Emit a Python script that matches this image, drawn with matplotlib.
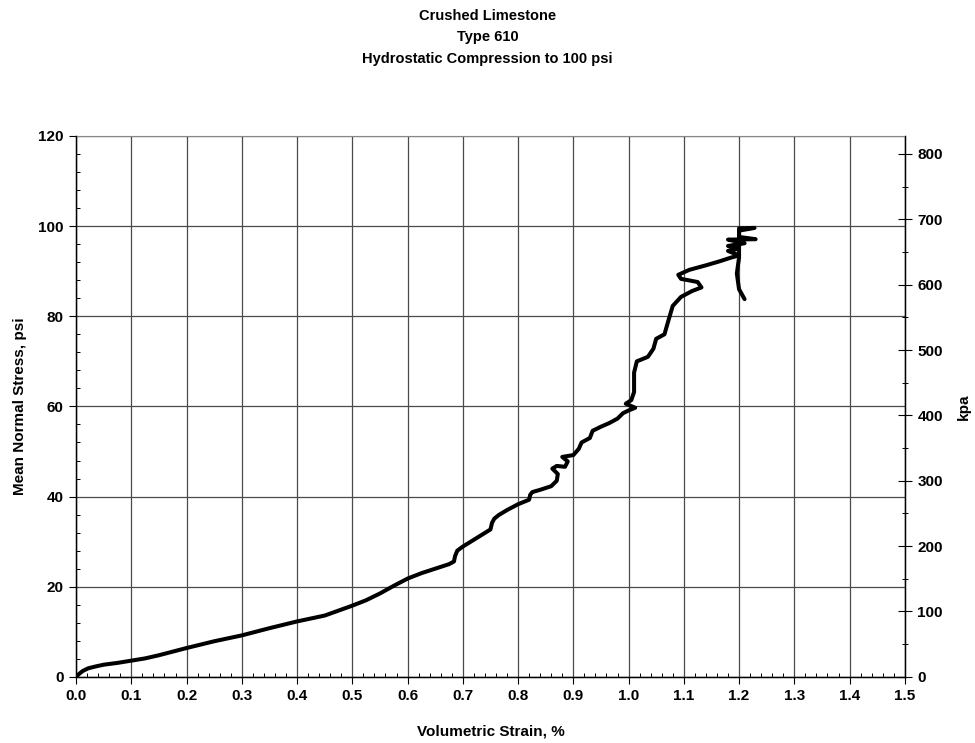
import numpy as np
import matplotlib
matplotlib.use("Agg")
import matplotlib.pyplot as plt
from matplotlib.ticker import MultipleLocator

plt.rcParams['font.family'] = ['Liberation Sans', 'DejaVu Sans']
plt.rcParams['font.weight'] = 'bold'

# volumetric strain (%) and mean normal stress (psi)
strain = [0.0, 0.005, 0.012, 0.022, 0.035, 0.05, 0.075, 0.1, 0.125, 0.15, 0.175,
          0.2, 0.25, 0.3, 0.35, 0.4, 0.45, 0.475, 0.5, 0.525, 0.55, 0.575, 0.6,
          0.625, 0.65, 0.675, 0.684, 0.686, 0.69, 0.7, 0.725, 0.75, 0.753, 0.757,
          0.765, 0.78, 0.8, 0.82, 0.822, 0.826, 0.84, 0.86, 0.87, 0.872, 0.862,
          0.87, 0.885, 0.89, 0.88, 0.9, 0.91, 0.915, 0.93, 0.935, 0.95, 0.965,
          0.98, 0.99, 1.0, 1.012, 0.995, 1.005, 1.01, 1.01, 1.015, 1.035, 1.045,
          1.05, 1.065, 1.072, 1.08, 1.095, 1.115, 1.132, 1.125, 1.095, 1.09,
          1.11, 1.14, 1.165, 1.185, 1.2, 1.18, 1.2, 1.18, 1.21, 1.18, 1.23, 1.2,
          1.2, 1.228, 1.2, 1.2, 1.196, 1.2, 1.21]
stress = [0.0, 0.6, 1.3, 1.9, 2.3, 2.7, 3.1, 3.6, 4.1, 4.8, 5.6,
          6.4, 7.9, 9.2, 10.8, 12.3, 13.6, 14.7, 15.8, 17.0, 18.5, 20.2, 21.8,
          23.0, 24.0, 25.0, 25.6, 26.8, 28.0, 28.9, 30.8, 32.7, 34.2, 35.1,
          35.9, 37.0, 38.3, 39.3, 40.4, 41.0, 41.5, 42.3, 43.5, 45.0, 46.2,
          46.8, 46.6, 47.8, 48.8, 49.2, 50.6, 52.0, 53.0, 54.6, 55.5, 56.3,
          57.3, 58.5, 59.1, 59.7, 60.6, 61.4, 63.2, 67.5, 70.0, 71.0, 72.8,
          75.0, 76.0, 79.0, 82.3, 84.3, 85.6, 86.4, 87.6, 88.3, 89.2,
          90.3, 91.3, 92.2, 93.0, 93.5, 94.5, 95.0, 95.6, 96.2, 97.0, 97.1, 97.6,
          99.5, 99.6, 99.0, 93.0, 89.5, 86.0, 83.8]

x_ticks = [0.0, 0.1, 0.2, 0.3, 0.4, 0.5, 0.6, 0.7, 0.8, 0.9, 1.0, 1.1, 1.2, 1.3, 1.4, 1.5]
y_ticks = [0, 20, 40, 60, 80, 100, 120]
kpa_ticks = [0, 100, 200, 300, 400, 500, 600, 700, 800]
PSI_TO_KPA = 6.895

fig = plt.figure(figsize=(9.75, 7.43), dpi=100)
ax = fig.add_axes([0.078, 0.089, 0.850, 0.728])

ax.plot(strain, stress, color='black', lw=2.9, solid_joinstyle='round',
        solid_capstyle='round', zorder=3)

ax.set_xlim(0, 1.5)
ax.set_ylim(0, 120)
ax.set_xticks(x_ticks)
ax.set_xticklabels([f"{t:.1f}" for t in x_ticks])
ax.set_yticks(y_ticks)
ax.xaxis.set_minor_locator(MultipleLocator(0.02))
ax.yaxis.set_minor_locator(MultipleLocator(4))
ax.grid(True, which='major', color='#4a4a4a', lw=0.9)
ax.set_axisbelow(True)

ax.tick_params(axis='both', which='major', labelsize=11, length=5, width=0.8,
               direction='out', pad=4)
ax.tick_params(axis='x', which='minor', length=3, direction='in', width=0.7)
ax.tick_params(axis='y', which='minor', length=3, direction='in', width=0.7)
for lab in ax.get_xticklabels() + ax.get_yticklabels():
    lab.set_fontweight('bold')

ax.spines['top'].set_color('#888888')
ax.spines['top'].set_linewidth(0.8)
for s in ['left', 'right', 'bottom']:
    ax.spines[s].set_linewidth(1.0)

ax.set_xlabel('Volumetric Strain, %', fontsize=11, fontweight='bold', labelpad=15)
ax.set_ylabel('Mean Normal Stress, psi', fontsize=11, fontweight='bold', labelpad=8)

ax2 = ax.twinx()
ax2.set_ylim(0, 120 * PSI_TO_KPA)
ax2.set_yticks(kpa_ticks)
ax2.yaxis.set_minor_locator(MultipleLocator(50))
ax2.tick_params(axis='y', which='major', labelsize=11, length=10, width=0.8,
                direction='inout', pad=4)
ax2.tick_params(axis='y', which='minor', length=5, width=0.7, direction='inout')
for lab in ax2.get_yticklabels():
    lab.set_fontweight('bold')
ax2.set_ylabel('kpa', fontsize=11, fontweight='bold', labelpad=10)
ax2.spines['top'].set_visible(False)

fig.text(0.5, 0.979, 'Crushed Limestone', ha='center', va='center',
         fontsize=10.5, fontweight='bold')
fig.text(0.5, 0.950, 'Type 610', ha='center', va='center',
         fontsize=10.5, fontweight='bold')
fig.text(0.5, 0.921, 'Hydrostatic Compression to 100 psi', ha='center',
         va='center', fontsize=10.5, fontweight='bold')

fig.savefig('out.png', dpi=100)
